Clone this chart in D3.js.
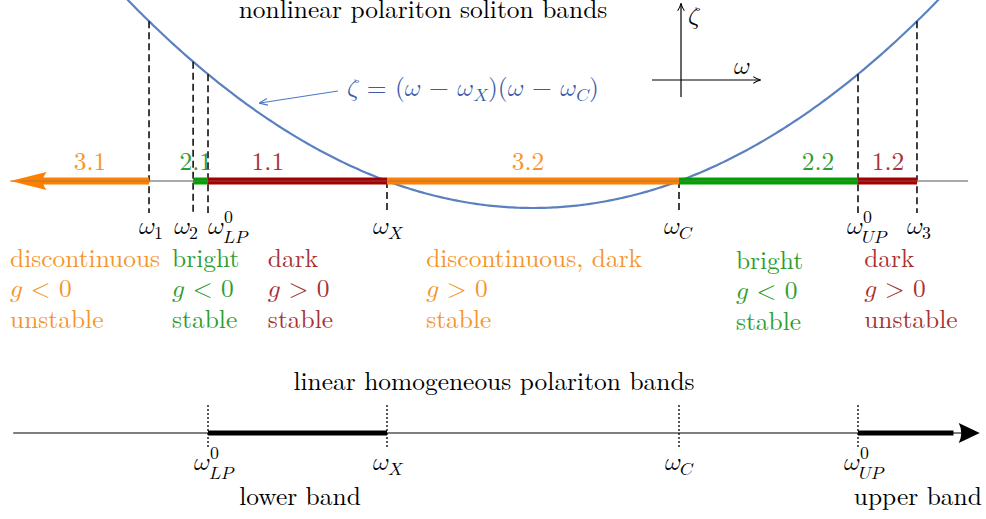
<!DOCTYPE html>
<html>
<head>
<meta charset="utf-8">
<script src="https://cdn.jsdelivr.net/npm/d3@7"></script>
<style>
  body { margin: 0; background: #fff; }
</style>
</head>
<body>
<div id="svg-spot"></div>
<script>
// Frequencies (units chosen so that omega_X = 0 and omega_C = 1)
var omegaSub = ["1", "2", "LP", "X", "C", "UP", "3"];
var omegaSup = ["", "", "0", "", "", "0", ""];
var omegaValues = [-0.815, -0.664, -0.613, 0, 1, 1.613, 1.815];

// Axis extent in the same units
var axisStart = -1.29;
var axisEnd = 1.99;
var linAxisStart = -1.28;
var linAxisEnd = 2.03;

// Nonlinear soliton bands: name, type (1 dark, 2 bright, 3 discontinuous), limits
var bandNames = ["3.1", "2.1", "1.1", "3.2", "2.2", "1.2"];
var bandTypes = [3, 2, 1, 3, 2, 1];
var bandFrom = [-1.18, -0.664, -0.613, 0, 1, 1.613];
var bandTo = [-0.815, -0.613, 0, 1, 1.613, 1.815];
var bandLabelAt = [-1.017, -0.655, -0.408, 0.483, 1.476, 1.716];

// Description columns under the axis
var descAt = [-1.291, -0.736, -0.408, 0.134, 1.195, 1.634];
var descTypes = [3, 2, 1, 3, 2, 1];
var descWord = ["discontinuous", "bright", "dark", "discontinuous, dark", "bright", "dark"];
var descSign = ["<", "<", ">", ">", "<", ">"];
var descStab = ["unstable", "stable", "stable", "stable", "stable", "unstable"];

// Linear homogeneous bands
var linBandFrom = [-0.613, 1.613];
var linBandTo = [0, 1.94];
var linBandNames = ["lower band", "upper band"];
var linBandLabelAt = [-0.298, 1.818];
var linTicks = [2, 3, 4, 5]; // indexes into omega arrays

var bandColor = { 1: "#a50000", 2: "#00a000", 3: "#ff8000" };
var textColor = { 1: "#a83232", 2: "#2f9e2f", 3: "#f5962c" };

var svgWidth = 986;
var svgHeight = 519;

// pick the first face that is really there (canvas width test)
function hasFont(name) {
    var c = document.createElement("canvas").getContext("2d");
    var s = "nonlinear polariton bands ωζ 0123";
    return ["monospace", "sans-serif"].every(function(b) {
        c.font = "40px " + b;
        var w0 = c.measureText(s).width;
        c.font = "40px '" + name + "', " + b;
        return c.measureText(s).width !== w0;
    });
}
var face = ["Latin Modern Roman", "CMU Serif", "Liberation Serif", "Tinos", "DejaVu Serif",
            "Noto Serif", "Times New Roman", "FreeSerif", "Nimbus Roman", "Times"].find(hasFont);
var fontFamily = face ? "'" + face + "', serif" : "serif";
var mathFace = ["Latin Modern Math", "STIX Two Math", "CMU Serif", "DejaVu Serif"].find(hasFont);
var mathIsUnicode = mathFace === "Latin Modern Math" || mathFace === "STIX Two Math";
var mathMap = { "ω": "𝜔", "ζ": "𝜁", "g": "𝑔", "X": "𝑋", "C": "𝐶", "L": "𝐿", "P": "𝑃", "U": "𝑈" };

// append a math-italic run as a tspan
function mi(sel, s) {
    var t = sel.append("tspan");
    if (mathIsUnicode) {
        t.style("font-family", "'" + mathFace + "'")
         .text(Array.from(s).map(c => mathMap[c] || c).join(""));
    } else {
        t.style("font-style", "italic").text(s);
        if (mathFace) t.style("font-family", "'" + mathFace + "'");
    }
    return t;
}

var svg = d3.select("#svg-spot")
            .append("svg")
            .attr("width", svgWidth)
            .attr("height", svgHeight)
            .style("font-family", fontFamily);

svg.append("rect").attr("width", svgWidth).attr("height", svgHeight).attr("fill", "#fff");

// scale the font so the title has the width it has in the figure
var probe = svg.append("text").attr("font-size", 26).text("nonlinear polariton soliton bands");
var fs = 26 * 369 / probe.node().getComputedTextLength();
probe.remove();
var fsSmall = fs * 0.7;

// scales
var x = d3.scaleLinear().domain([0, 1]).range([387, 679]);
var yZeta = d3.scaleLinear().domain([0, 1]).range([181, 73]);
var axisY = 181;
var linY = 433;

// offset of the omega glyph centre from its tick (crowded labels pushed aside)
var topNudge = [-2, -11, 8, -6, -7, -3, -2];
var bottomNudge = -6;

// helper for omega with sub / superscripts, cx is the centre of the omega glyph
function omegaLabel(g, cx, y, sub, sup) {
    var t = g.append("text")
        .attr("x", cx).attr("y", y)
        .attr("text-anchor", "middle")
        .attr("font-size", fs);
    mi(t, "ω");
    var w = t.node().getComputedTextLength();
    var x0 = cx + w / 2 - 1;
    if (sub) {
        var s = g.append("text")
            .attr("x", x0).attr("y", y + (sup ? 9 : 5))
            .attr("font-size", fsSmall);
        if (/[A-Z]/.test(sub)) mi(s, sub); else s.text(sub);
    }
    if (sup) {
        g.append("text")
            .attr("x", x0 + 1).attr("y", y - 11)
            .attr("font-size", fsSmall)
            .text(sup);
    }
}

// ---------- top: nonlinear polariton soliton bands ----------
var topG = svg.append("g");

topG.append("text")
    .attr("x", 423).attr("y", 18)
    .attr("text-anchor", "middle")
    .attr("font-size", fs)
    .text("nonlinear polariton soliton bands");

// parabola zeta = (w - wX)(w - wC)
var wX = omegaValues[3], wC = omegaValues[4];
var zeta = function(w) { return (w - wX) * (w - wC); };
var curve = d3.range(-0.95, 1.951, 0.01);
topG.append("path")
    .datum(curve)
    .attr("fill", "none")
    .attr("stroke", "#5a80c0")
    .attr("stroke-width", 2.2)
    .attr("d", d3.line().x(d => x(d)).y(d => yZeta(zeta(d))));

// dashed verticals from the curve down to the labels
topG.selectAll(".drop")
    .data(omegaValues)
    .enter()
    .append("line")
    .attr("x1", d => x(d)).attr("x2", d => x(d))
    .attr("y1", d => Math.min(yZeta(zeta(d)), axisY))
    .attr("y2", 213)
    .attr("stroke", "#000")
    .attr("stroke-width", 1.5)
    .attr("stroke-dasharray", "7,4");

// gray axis line
topG.append("line")
    .attr("x1", x(axisStart)).attr("x2", x(axisEnd))
    .attr("y1", axisY).attr("y2", axisY)
    .attr("stroke", "#aaa").attr("stroke-width", 1.5);

// bands
topG.selectAll(".band")
    .data(bandNames)
    .enter()
    .append("line")
    .attr("x1", (d, i) => x(bandFrom[i]))
    .attr("x2", (d, i) => x(bandTo[i]))
    .attr("y1", axisY).attr("y2", axisY)
    .attr("stroke", (d, i) => bandColor[bandTypes[i]])
    .attr("stroke-width", 7);

// orange arrow head on the left
var tipX = x(axisStart), backX = x(-1.18);
topG.append("path")
    .attr("d", `M${tipX},${axisY} L${backX + 4},${axisY - 9} Q${backX - 3},${axisY} ${backX + 4},${axisY + 9} Z`)
    .attr("fill", bandColor[3]);

// gray line shows through the bands
topG.append("line")
    .attr("x1", x(axisStart) + 10).attr("x2", x(axisEnd))
    .attr("y1", axisY).attr("y2", axisY)
    .attr("stroke", "#777").attr("stroke-width", 2).attr("opacity", 0.3);

// band labels
topG.selectAll(".bandLabel")
    .data(bandNames)
    .enter()
    .append("text")
    .attr("x", (d, i) => x(bandLabelAt[i]))
    .attr("y", 170)
    .attr("text-anchor", "middle")
    .attr("font-size", fs)
    .attr("fill", (d, i) => textColor[bandTypes[i]])
    .text(d => d);

// omega labels
omegaValues.forEach(function(v, i) {
    omegaLabel(topG, x(v) + topNudge[i], 234, omegaSub[i], omegaSup[i]);
});

// description columns (the bright/g<0 column on the right sits a little lower)
descAt.forEach(function(v, i) {
    var col = topG.append("g");
    var y0 = 267 + (i === 4 ? 2 : 0);
    var c = textColor[descTypes[i]];
    col.append("text").attr("x", x(v)).attr("y", y0).attr("fill", c).attr("font-size", fs).text(descWord[i]);
    var t = col.append("text").attr("x", x(v)).attr("y", y0 + 30).attr("fill", c).attr("font-size", fs);
    mi(t, "g");
    t.append("tspan").text(" " + descSign[i] + " 0");
    col.append("text").attr("x", x(v)).attr("y", y0 + 61).attr("fill", c).attr("font-size", fs).text(descStab[i]);
});

// formula annotation with arrow
var defs = svg.append("defs");
defs.append("marker")
    .attr("id", "blueHead")
    .attr("viewBox", "0 0 10 10")
    .attr("refX", 9).attr("refY", 5)
    .attr("markerWidth", 7).attr("markerHeight", 7)
    .attr("orient", "auto")
    .append("path")
    .attr("d", "M0,1 L10,5 L0,9")
    .attr("fill", "none")
    .attr("stroke", "#4a78c0")
    .attr("stroke-width", 1.3);

topG.append("line")
    .attr("x1", 338).attr("y1", 91)
    .attr("x2", 260).attr("y2", 103)
    .attr("stroke", "#4a78c0").attr("stroke-width", 1.2)
    .attr("marker-end", "url(#blueHead)");

var f = topG.append("text")
    .attr("x", 347).attr("y", 96)
    .attr("font-size", fs)
    .attr("fill", "#3d5bab");
mi(f, "ζ");
f.append("tspan").text(" = (");
mi(f, "ω");
f.append("tspan").text(" − ");
mi(f, "ω");
mi(f, "X").attr("dy", 5).attr("font-size", fsSmall);
f.append("tspan").attr("dy", -5).text(")(");
mi(f, "ω");
f.append("tspan").text(" − ");
mi(f, "ω");
mi(f, "C").attr("dy", 5).attr("font-size", fsSmall);
f.append("tspan").attr("dy", -5).text(")");

// small coordinate cross
defs.append("marker")
    .attr("id", "blackHead")
    .attr("viewBox", "0 0 10 10")
    .attr("refX", 9).attr("refY", 5)
    .attr("markerWidth", 7).attr("markerHeight", 7)
    .attr("orient", "auto")
    .append("path")
    .attr("d", "M1,1 Q5,4 10,5 Q5,6 1,9")
    .attr("fill", "none")
    .attr("stroke", "#000")
    .attr("stroke-width", 1.2);

topG.append("line")
    .attr("x1", 681).attr("y1", 97).attr("x2", 681).attr("y2", 4)
    .attr("stroke", "#000").attr("stroke-width", 1.2)
    .attr("marker-end", "url(#blackHead)");
topG.append("line")
    .attr("x1", 652).attr("y1", 80).attr("x2", 760).attr("y2", 80)
    .attr("stroke", "#000").attr("stroke-width", 1.2)
    .attr("marker-end", "url(#blackHead)");
mi(topG.append("text").attr("x", 688).attr("y", 24).attr("font-size", fs), "ζ");
mi(topG.append("text").attr("x", 734).attr("y", 74).attr("font-size", fs), "ω");

// ---------- bottom: linear homogeneous polariton bands ----------
var bottomG = svg.append("g");

bottomG.append("text")
    .attr("x", 494).attr("y", 390)
    .attr("text-anchor", "middle")
    .attr("font-size", fs)
    .text("linear homogeneous polariton bands");

bottomG.append("line")
    .attr("x1", x(linAxisStart)).attr("x2", x(linAxisEnd) - 10)
    .attr("y1", linY).attr("y2", linY)
    .attr("stroke", "#000").attr("stroke-width", 1.2);

bottomG.selectAll(".linBand")
    .data(linBandNames)
    .enter()
    .append("line")
    .attr("x1", (d, i) => x(linBandFrom[i]))
    .attr("x2", (d, i) => x(linBandTo[i]))
    .attr("y1", linY).attr("y2", linY)
    .attr("stroke", "#000")
    .attr("stroke-width", 5);

var tip2 = x(linAxisEnd), back2 = x(linAxisEnd) - 21;
bottomG.append("path")
    .attr("d", `M${tip2},${linY} L${back2},${linY - 10} Q${back2 + 5},${linY} ${back2},${linY + 10} Z`)
    .attr("fill", "#000");

bottomG.selectAll(".tick")
    .data(linTicks)
    .enter()
    .append("line")
    .attr("x1", d => x(omegaValues[d])).attr("x2", d => x(omegaValues[d]))
    .attr("y1", 405).attr("y2", 447)
    .attr("stroke", "#000")
    .attr("stroke-width", 1.3)
    .attr("stroke-dasharray", "2,2");

linTicks.forEach(function(d) {
    omegaLabel(bottomG, x(omegaValues[d]) + bottomNudge, 470, omegaSub[d], omegaSup[d]);
});

bottomG.selectAll(".linLabel")
    .data(linBandNames)
    .enter()
    .append("text")
    .attr("x", (d, i) => x(linBandLabelAt[i]))
    .attr("y", 505)
    .attr("text-anchor", "middle")
    .attr("font-size", fs)
    .text(d => d);
</script>
</body>
</html>
